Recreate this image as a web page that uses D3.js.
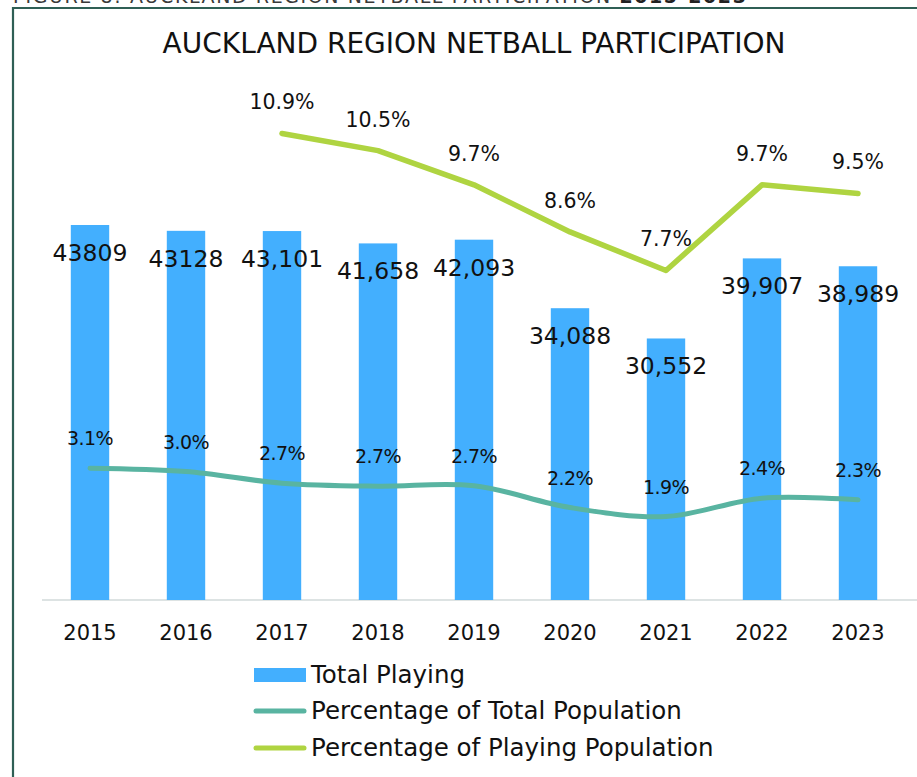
<!DOCTYPE html>
<html>
<head>
<meta charset="utf-8">
<script src="https://cdn.jsdelivr.net/npm/d3@7"></script>
<style>
  html, body { margin: 0; padding: 0; background: #ffffff; }
  svg { display: block; font-family: "DejaVu Sans", sans-serif; }
</style>
</head>
<body>
<svg id="chart" width="917" height="777"></svg>
<script>
// ---- data ----
const years = ["2015", "2016", "2017", "2018", "2019", "2020", "2021", "2022", "2023"];
const totalPlaying = [43809, 43128, 43101, 41658, 42093, 34088, 30552, 39907, 38989];
const totalPlayingLabels = ["43809", "43128", "43,101", "41,658", "42,093", "34,088", "30,552", "39,907", "38,989"];
const pctTotalPopulation = [3.08, 3.00, 2.73, 2.66, 2.67, 2.16, 1.95, 2.38, 2.34];
const pctTotalPopulationLabels = ["3.1%", "3.0%", "2.7%", "2.7%", "2.7%", "2.2%", "1.9%", "2.4%", "2.3%"];
const pctPlayingYears = ["2017", "2018", "2019", "2020", "2021", "2022", "2023"];
const pctPlayingPopulation = [10.9, 10.5, 9.7, 8.6, 7.7, 9.7, 9.5];
const seriesNames = ["Total Playing", "Percentage of Total Population", "Percentage of Playing Population"];
const chartTitle = "AUCKLAND REGION NETBALL PARTICIPATION";
const figureCaption = "FIGURE 8: AUCKLAND REGION NETBALL PARTICIPATION ";
const figureCaptionBold = "2015-2023";

// ---- styles ----
const barColor = "#43affe";
const tealColor = "#59b4a1";
const greenColor = "#afd441";
const frameColor = "#2f5f55";

const svg = d3.select("#chart");

// caption (cut off at top, as in the source)
svg.append("text")
  .attr("x", 13).attr("y", 3)
  .attr("font-size", 19).attr("fill", "#3a3a3a")
  .attr("letter-spacing", 1.6)
  .text(figureCaption)
  .append("tspan").attr("font-weight", "bold").attr("fill", "#222").text(figureCaptionBold);

// frame
svg.append("path")
  .attr("d", "M13,777 L13,8 L917,8")
  .attr("fill", "none").attr("stroke", frameColor).attr("stroke-width", 2.2);

// title
svg.append("text")
  .attr("x", 474).attr("y", 53)
  .attr("text-anchor", "middle")
  .attr("font-size", 28).attr("fill", "#111")
  .text(chartTitle);

// scales
const x = d3.scaleBand().domain(years).range([42, 906]).paddingInner(0.6).paddingOuter(0.3);
const y = d3.scaleLinear().domain([0, 50000]).range([600, 172]);
const y2 = d3.scaleLinear().domain([0, 10]).range([600, 172]);
const cx = d => x(d) + x.bandwidth() / 2;

// baseline axis
const xAxis = d3.axisBottom(x).tickSize(0).tickPadding(0);
const gx = svg.append("g").attr("transform", "translate(0,600)").call(xAxis);
gx.select(".domain").attr("stroke", "#dde3e3").attr("stroke-width", 2)
  .attr("d", "M42,0H917");
gx.selectAll(".tick text")
  .attr("font-family", "DejaVu Sans, sans-serif")
  .attr("font-size", 21).attr("fill", "#111")
  .attr("dy", null).attr("y", 40);

// bars
svg.append("g").selectAll("rect").data(years).join("rect")
  .attr("x", d => x(d))
  .attr("y", (d, i) => y(totalPlaying[i]))
  .attr("width", x.bandwidth())
  .attr("height", (d, i) => y(0) - y(totalPlaying[i]))
  .attr("fill", barColor);

// bar labels
svg.append("g").selectAll("text").data(years).join("text")
  .attr("x", d => cx(d))
  .attr("y", (d, i) => y(totalPlaying[i]) + 36)
  .attr("text-anchor", "middle")
  .attr("font-size", 23.5).attr("fill", "#111")
  .text((d, i) => totalPlayingLabels[i]);

// teal line
const tealLine = d3.line()
  .x((d, i) => cx(years[i]))
  .y(d => y2(d))
  .curve(d3.curveCatmullRom.alpha(0.5));
svg.append("path").datum(pctTotalPopulation)
  .attr("d", tealLine)
  .attr("fill", "none").attr("stroke", tealColor)
  .attr("stroke-width", 5).attr("stroke-linecap", "round").attr("stroke-linejoin", "round");

svg.append("g").selectAll("text").data(years).join("text")
  .attr("x", d => cx(d))
  .attr("y", (d, i) => y2(pctTotalPopulation[i]) - 23)
  .attr("text-anchor", "middle")
  .attr("font-size", 19).attr("fill", "#111")
  .attr("letter-spacing", -0.6)
  .text((d, i) => pctTotalPopulationLabels[i]);

// green line
const greenLine = d3.line()
  .x((d, i) => cx(pctPlayingYears[i]))
  .y(d => y2(d))
  .curve(d3.curveLinear);
svg.append("path").datum(pctPlayingPopulation)
  .attr("d", greenLine)
  .attr("fill", "none").attr("stroke", greenColor)
  .attr("stroke-width", 5.5).attr("stroke-linecap", "round").attr("stroke-linejoin", "round");

svg.append("g").selectAll("text").data(pctPlayingYears).join("text")
  .attr("x", d => cx(d))
  .attr("y", (d, i) => y2(pctPlayingPopulation[i]) - 24)
  .attr("text-anchor", "middle")
  .attr("font-size", 20.5).attr("fill", "#111")
  .text((d, i) => d3.format(".1f")(pctPlayingPopulation[i]) + "%");

// legend
const legend = svg.append("g");
const legendY = [675, 711, 748];
legend.append("rect").attr("x", 254).attr("y", legendY[0] - 7).attr("width", 52).attr("height", 14).attr("fill", barColor);
legend.append("line").attr("x1", 256).attr("x2", 304).attr("y1", legendY[1]).attr("y2", legendY[1])
  .attr("stroke", tealColor).attr("stroke-width", 5).attr("stroke-linecap", "round");
legend.append("line").attr("x1", 256).attr("x2", 304).attr("y1", legendY[2]).attr("y2", legendY[2])
  .attr("stroke", greenColor).attr("stroke-width", 5).attr("stroke-linecap", "round");
legend.selectAll("text").data(seriesNames).join("text")
  .attr("x", 311)
  .attr("y", (d, i) => legendY[i] + 8)
  .attr("font-size", 24.5).attr("fill", "#111")
  .text(d => d);
</script>
</body>
</html>
